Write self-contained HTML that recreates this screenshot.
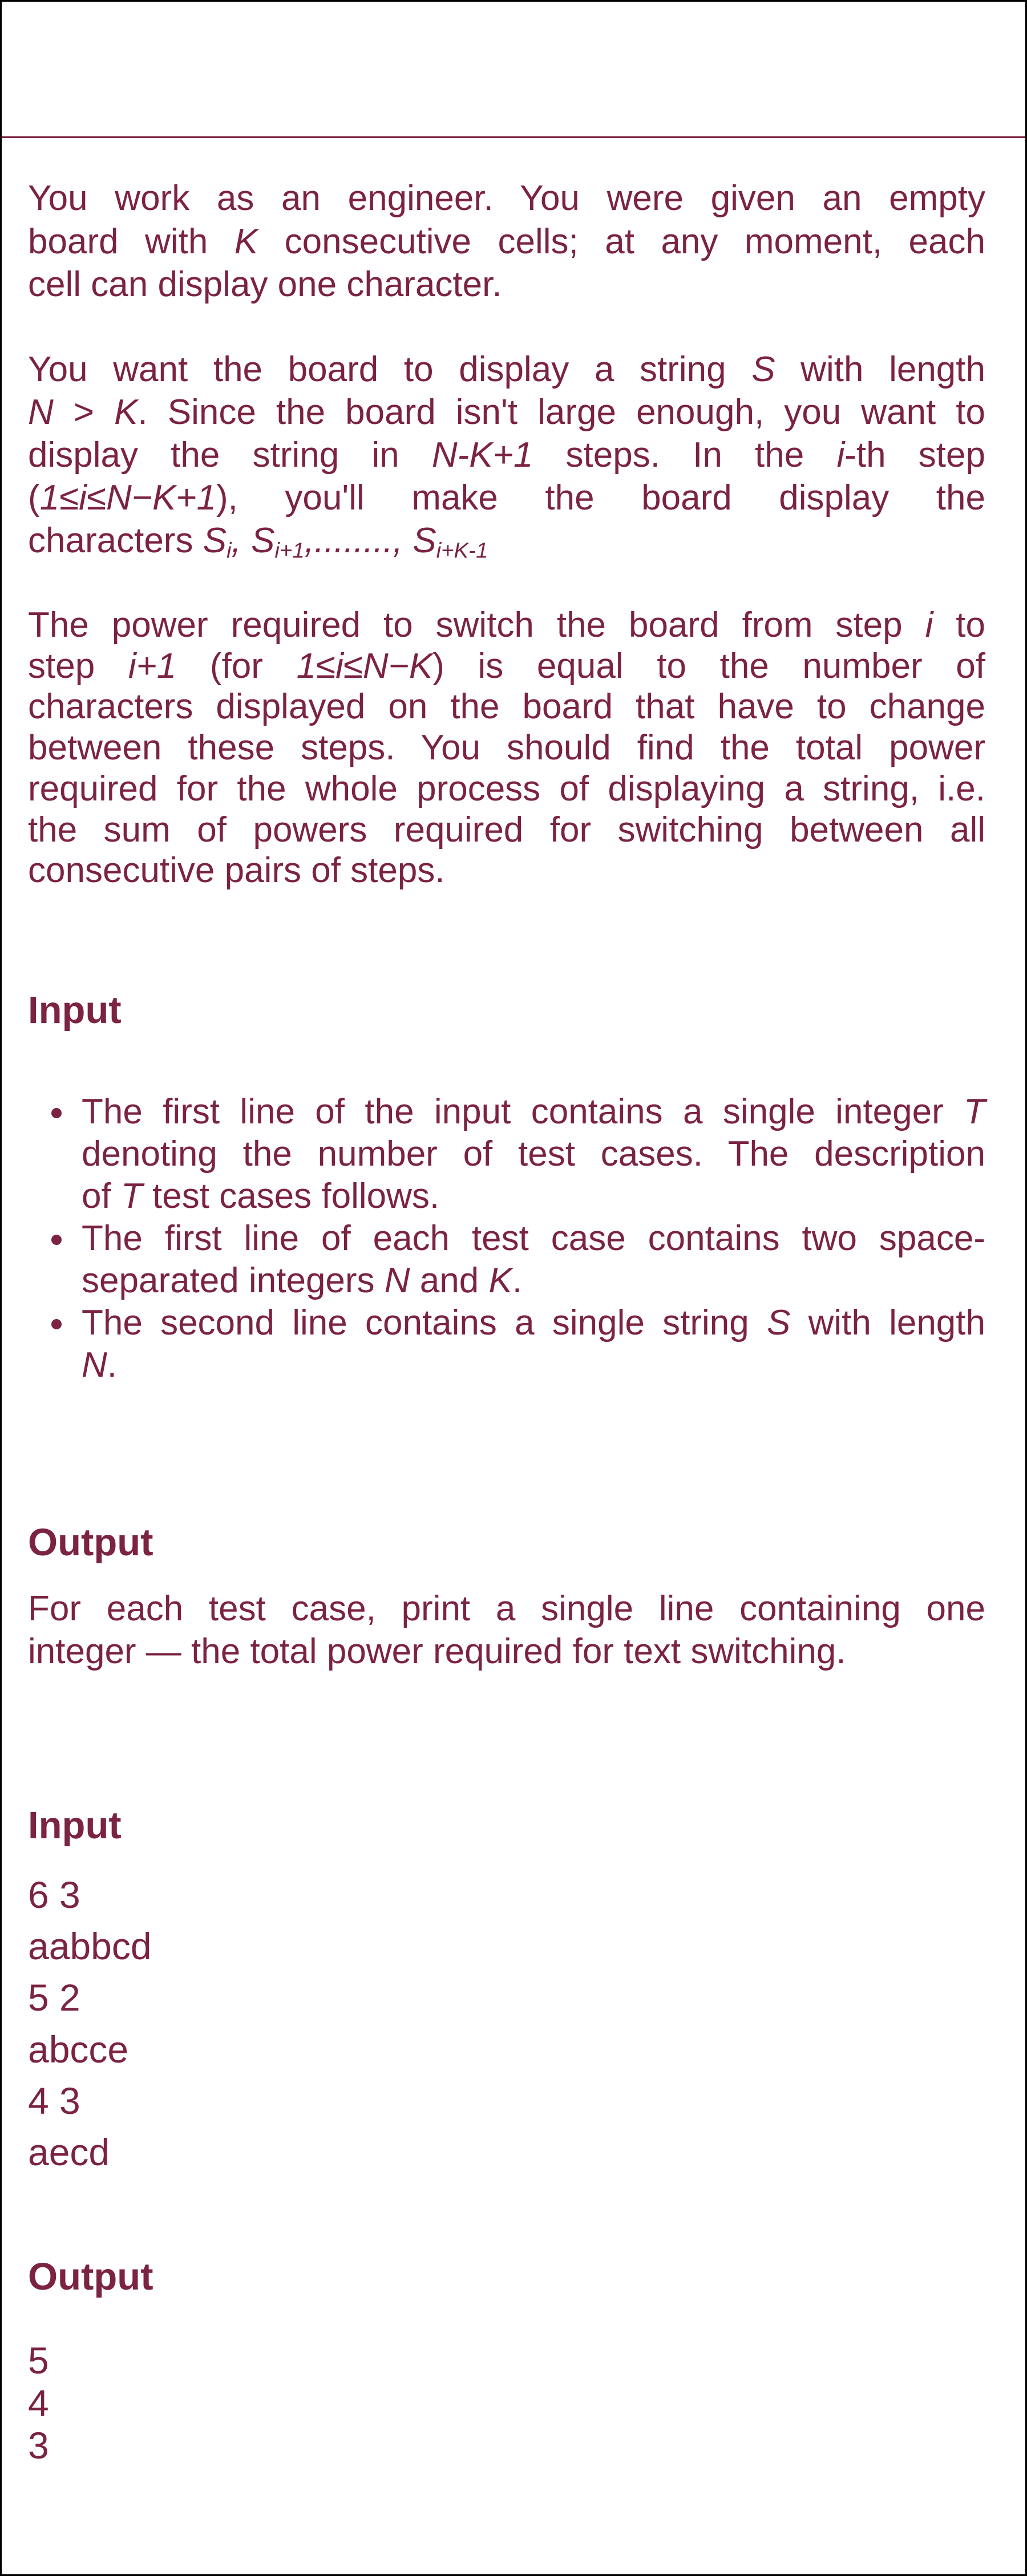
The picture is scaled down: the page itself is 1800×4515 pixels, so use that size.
<!DOCTYPE html>
<html><head><meta charset="utf-8"><style>
html,body{margin:0;padding:0;}
body{width:1800px;height:4515px;position:relative;background:#fff;overflow:hidden;font-family:"Liberation Sans",sans-serif;color:#7b2341;}
.frame{position:absolute;left:0;top:0;width:1794px;height:4509px;border:3px solid #000;}
.hr{position:absolute;left:3px;top:239px;width:1794px;height:3px;background:#7b2341;}
.p{position:absolute;left:49px;width:1678px;font-size:62px;}
.p div{white-space:nowrap;}
.j{text-align:justify;text-align-last:justify;white-space:normal !important;}
.h{position:absolute;left:49px;font-size:67px;font-weight:bold;line-height:70px;}
i{font-style:italic;}
sub{font-size:0.62em;vertical-align:-0.25em;line-height:0;}
.b{position:absolute;left:143px;width:1584px;font-size:62px;line-height:74px;}
.dot{position:absolute;left:-53px;width:18px;height:18px;border-radius:50%;background:#7b2341;}
.s{font-size:66px;}
</style></head><body>
<div class="frame"></div>
<div class="hr"></div>

<div class="p" style="top:310px;line-height:75.5px;">
<div class="j">You work as an engineer. You were given an empty</div>
<div class="j">board with <i>K</i> consecutive cells; at any moment, each</div>
<div>cell can display one character.</div>
</div>

<div class="p" style="top:610px;line-height:75px;">
<div class="j">You want the board to display a string <i>S</i> with length</div>
<div class="j"><i>N</i> &gt; <i>K</i>. Since the board isn't large enough, you want to</div>
<div class="j">display the string in <i>N-K+1</i> steps. In the <i>i</i>-th step</div>
<div class="j">(<i>1≤i≤N−K+1</i>), you'll make the board display the</div>
<div>characters <i>S<sub>i</sub>, S<sub>i+1</sub>,........, S<sub>i+K-1</sub></i></div>
</div>

<div class="p" style="top:1060px;line-height:71.7px;">
<div class="j">The power required to switch the board from step <i>i</i> to</div>
<div class="j">step <i>i+1</i> (for <i>1≤i≤N−K</i>) is equal to the number of</div>
<div class="j">characters displayed on the board that have to change</div>
<div class="j">between these steps. You should find the total power</div>
<div class="j">required for the whole process of displaying a string, i.e.</div>
<div class="j">the sum of powers required for switching between all</div>
<div>consecutive pairs of steps.</div>
</div>

<div class="h" style="top:1736px;">Input</div>

<div class="b" style="top:1912px;">
<div style="position:relative"><span class="dot" style="top:30px"></span><div class="j">The first line of the input contains a single integer <i>T</i></div></div>
<div class="j">denoting the number of test cases. The description</div>
<div>of <i>T</i> test cases follows.</div>
<div style="position:relative"><span class="dot" style="top:30px"></span><div class="j">The first line of each test case contains two space-</div></div>
<div>separated integers <i>N</i> and <i>K</i>.</div>
<div style="position:relative"><span class="dot" style="top:30px"></span><div class="j">The second line contains a single string <i>S</i> with length</div></div>
<div><i>N</i>.</div>
</div>

<div class="h" style="top:2669px;">Output</div>

<div class="p" style="top:2782px;line-height:75px;">
<div class="j">For each test case, print a single line containing one</div>
<div>integer — the total power required for text switching.</div>
</div>

<div class="h" style="top:3165px;">Input</div>
<div class="p s" style="top:3276px;line-height:90.2px;">
<div>6 3</div><div>aabbcd</div><div>5 2</div><div>abcce</div><div>4 3</div><div>aecd</div>
</div>

<div class="h" style="top:3956px;">Output</div>
<div class="p s" style="top:4100px;line-height:74.5px;">
<div>5</div><div>4</div><div>3</div>
</div>
</body></html>
